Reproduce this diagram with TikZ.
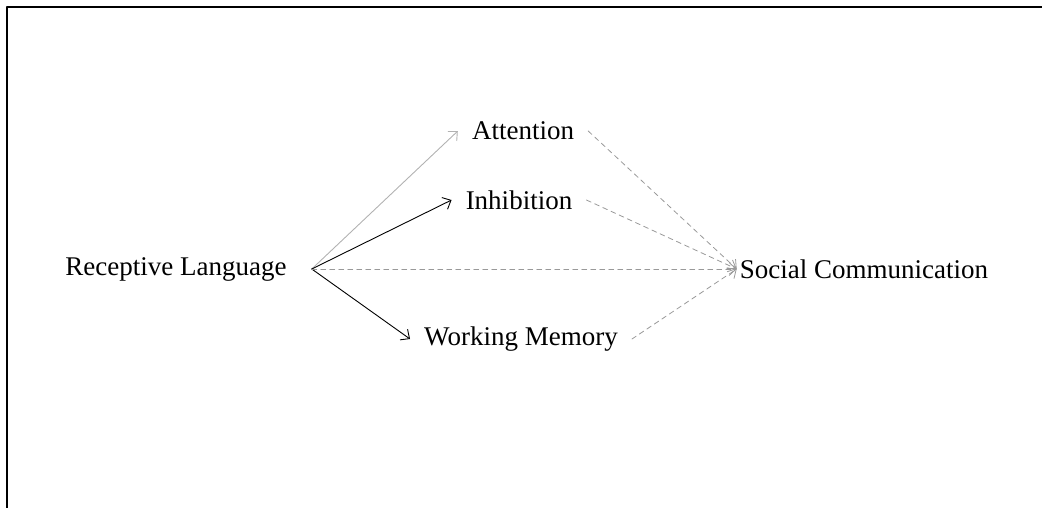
\documentclass[tikz,border=0pt]{standalone}
\usepackage{fontspec}
\setmainfont{Liberation Serif}
\usetikzlibrary{arrows.meta}
\tikzset{
  var/.style={inner xsep=14pt, inner ysep=2pt},
  path/.style={->, line width=0.9pt},
  cov/.style={->, line width=0.8pt, gray!80, dash pattern=on 5pt off 4pt}
}
\begin{document}
\begin{tikzpicture}[x=1pt, y=-1pt, font=\fontsize{27}{32}\selectfont, line join=round, line cap=round, >={Straight Barb[length=7pt,width=13pt]}]
\useasboundingbox (0,0) rectangle (1042,507);
\clip (0,0) rectangle (1042,507);
\draw[line width=2.2pt] (7,520)--(7,7)--(1060,7);
\node[var, inner xsep=25pt] (rl) at (176,269) {Receptive Language};
\node[var] (att) at (523,131) {Attention};
\node[var] (inh) at (519,200) {Inhibition};
\node[var] (wm) at (521,339) {Working Memory};
\node[var, inner xsep=3pt] (sc) at (864,269) {Social Communication};
\draw[path, gray!60] (rl.east)--(att.west);
\draw[path] (rl.east)--(inh.west);
\draw[path] (rl.east)--(wm.west);
\draw[cov] (rl.east)--(sc.west);
\draw[cov] (att.east)--(sc.west);
\draw[cov] (inh.east)--(sc.west);
\draw[cov] (wm.east)--(sc.west);
\end{tikzpicture}
\end{document}
